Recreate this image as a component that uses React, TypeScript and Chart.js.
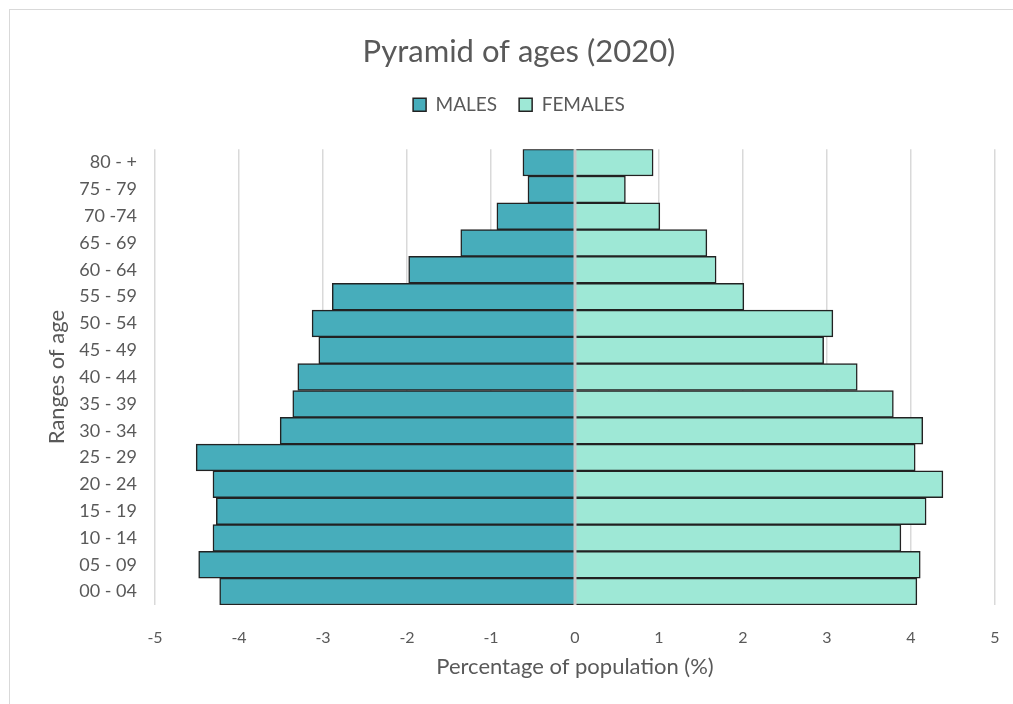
import React, { useEffect, useRef } from "react";
import { Chart, registerables, layouts } from "chart.js";

Chart.register(...registerables);

const ageGroups = ["80 - +", "75 - 79", "70 -74", "65 - 69", "60 - 64", "55 - 59", "50 - 54", "45 - 49", "40 - 44", "35 - 39", "30 - 34", "25 - 29", "20 - 24", "15 - 19", "10 - 14", "05 - 09", "00 - 04"];
const males = [-0.62, -0.56, -0.93, -1.36, -1.98, -2.89, -3.13, -3.05, -3.3, -3.36, -3.51, -4.51, -4.31, -4.27, -4.31, -4.48, -4.23];
const females = [0.93, 0.6, 1.01, 1.57, 1.68, 2.01, 3.07, 2.96, 3.36, 3.79, 4.14, 4.05, 4.38, 4.18, 3.88, 4.11, 4.07];
const xMin = -5;
const xMax = 5;

const FONT = "Lato, 'Open Sans', sans-serif";
const TEXT = "#595959";

const zeroLine = {
  id: "zeroLine",
  afterDatasetsDraw(chart: any) {
    const { ctx, chartArea, scales } = chart;
    const x = scales.x.getPixelForValue(0);
    ctx.save();
    ctx.strokeStyle = "#c8c8c8";
    ctx.lineWidth = 3;
    ctx.beginPath();
    ctx.moveTo(x, chartArea.top);
    ctx.lineTo(x, chartArea.bottom);
    ctx.stroke();
    ctx.restore();
  },
};

const legendSpacer = {
  id: "legendSpacer",
  beforeInit(chart: any) {
    const box: any = {
      position: "top",
      weight: 0,
      fullSize: true,
      options: {},
      left: 0,
      top: 0,
      right: 0,
      bottom: 0,
      width: 0,
      height: 0,
      isHorizontal() {
        return true;
      },
      update(maxWidth: number) {
        this.width = maxWidth;
        this.height = 25;
      },
      draw() {},
    };
    layouts.addBox(chart, box);
  },
};

export default function App() {
  const ref = useRef<HTMLCanvasElement | null>(null);
  useEffect(() => {
    if (!ref.current) return;
    const chart = new Chart(ref.current, {
      type: "bar",
      data: {
        labels: ageGroups,
        datasets: [
          {
            label: "MALES",
            data: males,
            backgroundColor: "#47adbb",
            borderColor: "#222222",
            borderWidth: 1.5,
            barPercentage: 1,
            categoryPercentage: 1,
          },
          {
            label: "FEMALES",
            data: females,
            backgroundColor: "#9ee8d6",
            borderColor: "#222222",
            borderWidth: 1.5,
            barPercentage: 1,
            categoryPercentage: 1,
          },
        ],
      },
      options: {
        indexAxis: "y",
        responsive: false,
        animation: false,
        devicePixelRatio: 1,
        layout: { padding: { left: 33, right: 33, top: 0, bottom: 0 } },
        plugins: {
          title: {
            display: true,
            text: "Pyramid of ages (2020)",
            color: TEXT,
            font: { family: FONT, size: 31, weight: "normal" },
            padding: { top: 23, bottom: 3 },
          },
          legend: {
            display: true,
            position: "top",
            labels: {
              color: TEXT,
              font: { family: FONT, size: 19 },
              boxWidth: 13,
              boxHeight: 13,
              padding: 22,
            },
          },
          tooltip: { enabled: false },
        },
        scales: {
          x: {
            type: "linear",
            stacked: true,
            min: xMin,
            max: xMax,
            ticks: {
              stepSize: 1,
              color: TEXT,
              font: { family: FONT, size: 16 },
              padding: 23,
            },
            grid: { color: "#d9d9d9", lineWidth: 1.5, drawTicks: false },
            border: { display: false },
            title: {
              display: true,
              text: "Percentage of population (%)",
              color: TEXT,
              font: { family: FONT, size: 22 },
              padding: { top: 0, bottom: 30 },
            },
            afterFit: (s: any) => {
              s.height = 105;
            },
          },
          y: {
            stacked: true,
            ticks: {
              color: TEXT,
              font: { family: FONT, size: 18 },
              padding: 18,
            },
            grid: { display: false, drawTicks: false },
            border: { display: false },
            title: {
              display: true,
              text: "Ranges of age",
              color: TEXT,
              font: { family: FONT, size: 22 },
              padding: { top: 1, bottom: 0 },
            },
            afterFit: (s: any) => {
              s.width = 112;
            },
          },
        },
      },
      plugins: [zeroLine, legendSpacer],
    } as any);
    return () => chart.destroy();
  }, []);

  return (
    <div style={{ position: "fixed", left: 0, top: 0, width: 1013, height: 704, overflow: "hidden", background: "#fff" }}>
      <div style={{ position: "absolute", left: 9, top: 9, width: 1018, height: 700, border: "1px solid #d9d9d9" }}>
        <canvas ref={ref} width={1018} height={700} style={{ display: "block", width: 1018, height: 700 }} />
      </div>
    </div>
  );
}
